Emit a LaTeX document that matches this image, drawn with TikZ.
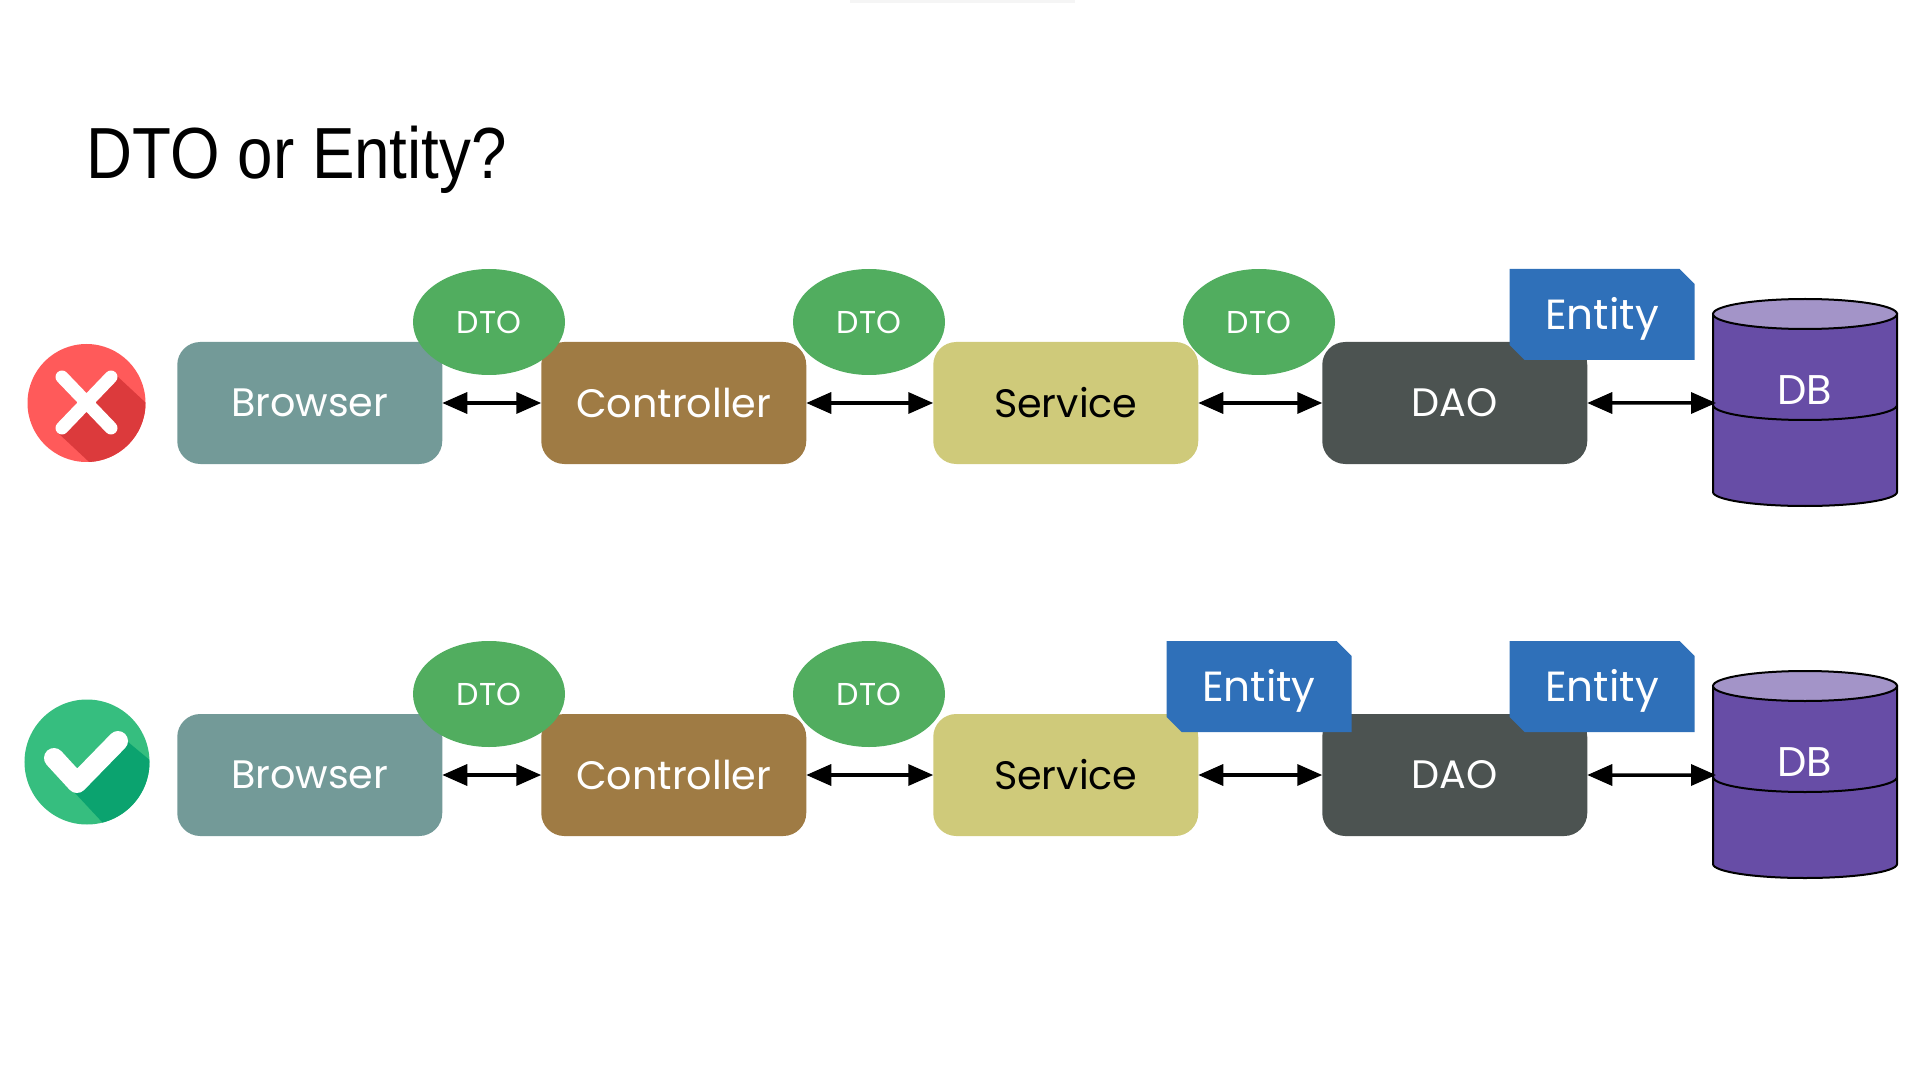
\documentclass[tikz,border=0pt]{standalone}
\usepackage{fontspec}
\setmainfont{Liberation Sans}
\newfontfamily\boxfont{Poppins}
\newfontfamily\titlefont[FakeStretch=0.88]{Liberation Sans}
\usetikzlibrary{positioning,arrows.meta,shapes.geometric,shapes.misc}
\definecolor{browsercol}{HTML}{739A98}
\definecolor{controllercol}{HTML}{9F7B44}
\definecolor{servicecol}{HTML}{CFCA7A}
\definecolor{daocol}{HTML}{4C5351}
\definecolor{dtocol}{HTML}{51AD5F}
\definecolor{entitycol}{HTML}{2F70B9}
\definecolor{dbcol}{HTML}{674DA6}
\definecolor{dbtopcol}{HTML}{A394C8}
\definecolor{crosscol}{HTML}{FF5A5A}
\definecolor{crossdark}{HTML}{DC3A3C}
\definecolor{tickcol}{HTML}{36BE7F}
\definecolor{tickdark}{HTML}{0BA36F}
\tikzset{main box/.style={rounded corners=0.23cm,minimum width=2.65cm,minimum height=1.22cm,inner sep=0pt,outer sep=0pt,text=white,font=\boxfont\fontsize{11.3}{13}\selectfont},
dto node/.style={ellipse,fill=dtocol,minimum width=1.52cm,minimum height=1.06cm,inner sep=0pt,outer sep=0pt,text=white,font=\boxfont\fontsize{9}{11}\selectfont},
entity node/.style={chamfered rectangle,chamfered rectangle corners={north east,south west},chamfered rectangle xsep=0.075cm,chamfered rectangle ysep=0.075cm,fill=entitycol,minimum width=1.85cm,minimum height=0.91cm,inner sep=0pt,outer sep=0pt,text=white,text depth=0pt,text height=8.3pt,font=\boxfont\fontsize{12}{14}\selectfont},
link/.style={{Triangle[length=0.25cm,width=0.21cm]}-{Triangle[length=0.25cm,width=0.21cm]},line width=0.035cm},
dbstack/.pic={
	\path[fill=dbcol,draw=black,line width=0.02cm] (-0.92,0) -- (-0.92,-1.78) arc[start angle=180,end angle=360,x radius=0.92,y radius=0.14] -- (0.92,0) -- cycle;
	\path[fill=dbtopcol,draw=black,line width=0.02cm] (0,0) ellipse[x radius=0.92,y radius=0.15];
	\draw[line width=0.02cm] (-0.92,-0.91) arc[start angle=180,end angle=360,x radius=0.92,y radius=0.15];
	\node[text=white,font=\boxfont\fontsize{11.8}{14}\selectfont] (-label) at (0,-0.765) {DB};
	\coordinate (-in) at (-0.89,-0.89);
},
}

\begin{document}
\begin{tikzpicture}
	\useasboundingbox (0,0) rectangle (19.2,-10.8);
	\fill[black!4] (8.5,0) rectangle (10.75,-0.03);
	\node[anchor=west,inner sep=0pt,font=\titlefont\fontsize{20.6}{24}\selectfont] (title) at (0.86,-1.60) {DTO or Entity?};

	% wrong way
	\fill[crosscol] (0.865,-4.03) circle (0.59);
	\begin{scope}
		\clip (0.865,-4.03) circle (0.59);
		\fill[crossdark] (1.17,-3.76) -- (1.75,-4.30) -- (1.75,-5.0) -- (1.17,-4.88) -- (0.57,-4.32) -- cycle;
	\end{scope}
	\draw[white,line width=0.13cm,line cap=round] (0.62,-3.77) -- (1.11,-4.28) (1.11,-3.77) -- (0.62,-4.28);

	\node[main box,fill=browsercol] (browser1) at (3.0975,-4.03) {Browser};
	\node[main box,fill=controllercol] (controller1)[right = 0.99cm of browser1] {Controller};
	\node[main box,fill=servicecol,text=black] (service1)[right = 1.27cm of controller1] {Service};
	\node[main box,fill=daocol] (dao1)[right = 1.24cm of service1] {DAO};
	\pic (db1) at (18.05,-3.14) {dbstack};

	\node[dto node] (dtoa1) at (4.89,-3.22) {DTO};
	\node[dto node] (dtob1) at (8.69,-3.22) {DTO};
	\node[dto node] (dtoc1) at (12.59,-3.22) {DTO};
	\node[entity node] (entity1) at (16.02,-3.145) {Entity};

	\draw[link] (browser1) -- (controller1);
	\draw[link] (controller1) -- (service1);
	\draw[link] (service1) -- (dao1);
	\draw[link] (dao1.east) -- (db1-in);

	% right way
	\fill[tickcol] (0.87,-7.62) circle (0.625);
	\begin{scope}
		\clip (0.87,-7.62) circle (0.625);
		\fill[tickdark] (1.28,-7.42) -- (1.75,-7.81) -- (1.75,-8.52) -- (1.30,-8.52) -- (0.75,-7.93) -- cycle;
	\end{scope}
	\draw[white,line width=0.2cm,line cap=round,line join=round] (0.54,-7.58) -- (0.77,-7.83) -- (1.18,-7.41);

	\node[main box,fill=browsercol] (browser2)[below = 2.5cm of browser1] {Browser};
	\node[main box,fill=controllercol] (controller2)[right = 0.99cm of browser2] {Controller};
	\node[main box,fill=servicecol,text=black] (service2)[right = 1.27cm of controller2] {Service};
	\node[main box,fill=daocol] (dao2)[right = 1.24cm of service2] {DAO};
	\pic (db2) at (18.05,-6.86) {dbstack};

	\node[dto node] (dtoa2) at (4.89,-6.94) {DTO};
	\node[dto node] (dtob2) at (8.69,-6.94) {DTO};
	\node[entity node] (entitya2) at (12.59,-6.865) {Entity};
	\node[entity node] (entityb2) at (16.02,-6.865) {Entity};

	\draw[link] (browser2) -- (controller2);
	\draw[link] (controller2) -- (service2);
	\draw[link] (service2) -- (dao2);
	\draw[link] (dao2.east) -- (db2-in);
\end{tikzpicture}
\end{document}
